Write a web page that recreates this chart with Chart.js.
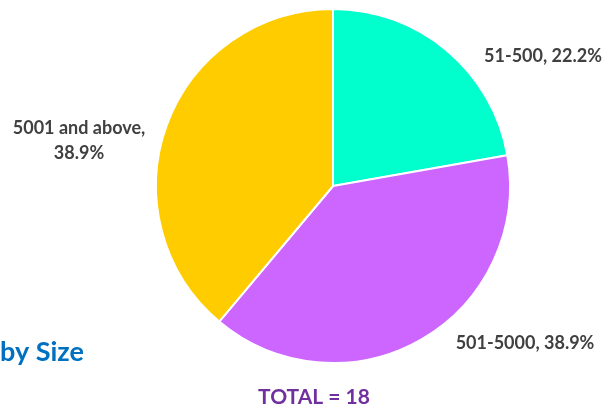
<!DOCTYPE html>
<html>
<head>
<meta charset="utf-8">
<script src="https://cdn.jsdelivr.net/npm/chart.js@4.4.0/dist/chart.umd.min.js"></script>
<style>
  html, body { margin: 0; padding: 0; background: #fff; }
  #wrap { position: relative; width: 607px; height: 407px; }
</style>
</head>
<body>
<div id="wrap"><canvas id="chart" width="607" height="407"></canvas></div>
<script>
// Companies by size
const categories = ['51-500', '501-5000', '5001 and above'];
const counts = [4, 7, 7];
const colors = ['#00FFCC', '#CC66FF', '#FFCC00'];
const total = counts.reduce((a, b) => a + b, 0);

// label placement (centre of each text block) and line breaks
const labelSpots = [
  { x: 543, y: 56, lines: (c, p) => [c + ', ' + p] },
  { x: 525, y: 343, lines: (c, p) => [c + ', ' + p] },
  { x: 79, y: 141, lines: (c, p) => [c + ',', p] }
];

const pct = v => (v / total * 100).toFixed(1) + '%';

const labelPlugin = {
  id: 'sliceLabels',
  afterDraw(chart) {
    const ctx = chart.ctx;
    ctx.save();
    ctx.fillStyle = '#404040';
    ctx.font = 'bold 18px Lato, "Open Sans", sans-serif';
    ctx.textAlign = 'center';
    ctx.textBaseline = 'middle';
    counts.forEach((v, i) => {
      const s = labelSpots[i];
      const lines = s.lines(categories[i], pct(v));
      lines.forEach((t, k) => {
        ctx.fillText(t, s.x, s.y + (k - (lines.length - 1) / 2) * 25);
      });
    });
    ctx.font = 'bold 27px Lato, "Open Sans", sans-serif';
    ctx.textAlign = 'left';
    ctx.fillStyle = '#0070C0';
    ctx.fillText('by Size', 0, 352);
    ctx.font = 'bold 21px Lato, "Open Sans", sans-serif';
    ctx.textAlign = 'center';
    ctx.fillStyle = '#7030A0';
    ctx.fillText('TOTAL = ' + total, 314, 397);
    ctx.restore();
  }
};

new Chart(document.getElementById('chart'), {
  type: 'pie',
  data: {
    labels: categories,
    datasets: [{
      data: counts,
      backgroundColor: colors,
      borderColor: '#ffffff',
      borderWidth: 2
    }]
  },
  options: {
    responsive: false,
    animation: false,
    layout: { padding: { top: 8, bottom: 43, left: 155, right: 96 } },
    plugins: { legend: { display: false }, tooltip: { enabled: false } }
  },
  plugins: [labelPlugin]
});
</script>
</body>
</html>
